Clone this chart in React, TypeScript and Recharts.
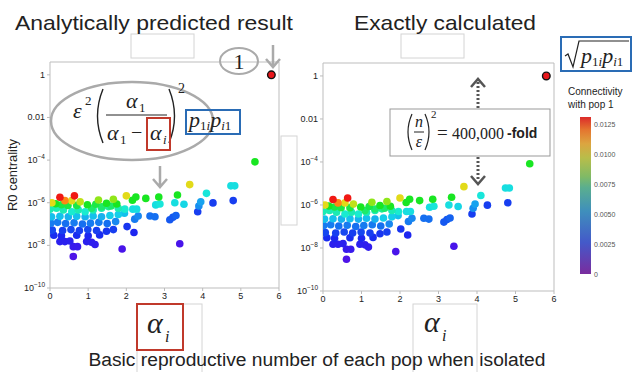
import { ScatterChart, Scatter, XAxis, YAxis, ReferenceArea } from "recharts";

// alpha_i (x), R0 centrality (y), connectivity with pop 1 (c)
const alphaValues = [
  0.05, 0.26, 0.39, 0.57, 0.64, 0.79, 1.27, 1.66, 1.48, 1.75, 2.0, 2.16, 2.25, 2.51, 2.85, 3.34, 3.66,
  0.15, 0.3, 0.47, 0.7, 0.98, 1.09, 1.2, 1.35, 1.6,
  0.0, 0.17, 0.35, 0.57, 0.74, 0.92, 1.13, 1.35, 1.53, 1.79, 1.96, 2.17, 2.27, 2.77, 2.88, 3.27, 3.51,
  0.04, 0.26, 0.48, 0.7, 0.92, 1.13, 1.35, 1.57, 1.79, 1.95,
  0.02, 0.2, 0.41, 0.63, 0.85, 1.06, 1.28, 1.5, 1.72, 2.22, 2.31, 2.62, 2.75, 3.14, 3.22, 3.3, 3.9, 3.95, 4.1,
  0.06, 0.33, 0.55, 0.77, 0.99, 1.22, 1.48, 1.66, 2.02, 2.2, 3.87, 4.27, 4.8,
  0.1, 0.3, 0.7, 1.0, 1.3, 0.26, 0.39, 0.52, 0.96, 1.09, 1.18, 0.61, 0.72, 0.61, 1.89, 3.4,
  4.74, 4.84, 5.37,
];
const centralityValues = [
  1.0e-6, 1.8e-6, 1.25e-6, 1.25e-6, 2.1e-6, 1.1e-6, 1.35e-6, 1.45e-6, 9.5e-7, 8.7e-7, 2.1e-6, 1.3e-6, 1.85e-6, 1.6e-6, 1.85e-6, 2.3e-6, 7.1e-6,
  9e-7, 8e-7, 7.5e-7, 7.5e-7, 8e-7, 5.5e-7, 8.5e-7, 6.5e-7, 7e-7,
  5e-7, 5.5e-7, 4.6e-7, 3.8e-7, 4.6e-7, 3.8e-7, 4.6e-7, 5.5e-7, 6.6e-7, 5.5e-7, 5e-7, 5e-7, 5e-7, 7.9e-7, 8.7e-7, 1.0e-6, 8.5e-7,
  2.2e-7, 2.3e-7, 2.2e-7, 2.3e-7, 2.2e-7, 2.4e-7, 2.2e-7, 2.5e-7, 2.8e-7, 3.2e-7,
  1.1e-7, 1.2e-7, 1.05e-7, 1.15e-7, 1.0e-7, 1.1e-7, 1.2e-7, 1.05e-7, 1.3e-7, 1.7e-7, 2.4e-7, 2.4e-7, 2.2e-7, 1.6e-7, 2.1e-7, 2.5e-7, 7e-7, 1.1e-6, 2.75e-6,
  5.2e-8, 5e-8, 5.5e-8, 5e-8, 5.5e-8, 5e-8, 4.6e-8, 5.5e-8, 7.6e-8, 4e-8, 3.8e-7, 9.8e-7, 1.26e-6,
  3e-8, 2.8e-8, 3e-8, 2.8e-8, 3.1e-8, 1.5e-8, 1.5e-8, 1.6e-8, 1.5e-8, 1.4e-8, 1.1e-8, 8.7e-9, 8.7e-9, 3.0e-9, 6.8e-9, 1.2e-8,
  6.2e-6, 6.2e-6, 8.3e-5,
];
const connectivityValues = [
  0.0095, 0.0125, 0.011, 0.0095, 0.0125, 0.0092, 0.0088, 0.0088, 0.0078, 0.0078, 0.0095, 0.0078, 0.0078, 0.0078, 0.0078, 0.0078, 0.0095,
  0.0078, 0.0075, 0.0075, 0.0075, 0.0078, 0.0072, 0.0075, 0.0072, 0.0072,
  0.0065, 0.0065, 0.0065, 0.0062, 0.0065, 0.0062, 0.0065, 0.0065, 0.0068, 0.0065, 0.0062, 0.0058, 0.0058, 0.0058, 0.006, 0.0058, 0.0056,
  0.0052, 0.0052, 0.005, 0.0052, 0.005, 0.0052, 0.005, 0.0054, 0.0054, 0.0052,
  0.0042, 0.0042, 0.004, 0.0042, 0.004, 0.0042, 0.0042, 0.004, 0.0044, 0.0042, 0.0044, 0.004, 0.004, 0.0036, 0.0036, 0.0038, 0.0045, 0.0048, 0.006,
  0.0032, 0.003, 0.0032, 0.003, 0.0032, 0.003, 0.0028, 0.003, 0.0028, 0.0024, 0.003, 0.003, 0.003,
  0.0026, 0.0024, 0.0026, 0.0024, 0.0026, 0.002, 0.002, 0.002, 0.002, 0.0019, 0.0018, 0.0016, 0.0016, 0.001, 0.0012, 0.0012,
  0.0058, 0.0058, 0.0078,
];

// pop 1 itself
const focalAlpha = [5.8];
const focalCentrality = [1];

const xTicks = [0, 1, 2, 3, 4, 5, 6];
const yTicks = [1e-10, 1e-8, 1e-6, 1e-4, 0.01, 1];
const yTickBase = ["10", "10", "10", "10", "0.01", "1"];
const yTickExp = ["−10", "−8", "−6", "−4", "", ""];
const colorbarTicks = [0, 0.0025, 0.005, 0.0075, 0.01, 0.0125];
const colorbarLabels = ["0", "0.0025", "0.0050", "0.0075", "0.0100", "0.0125"];

const points = alphaValues
  .map((a, i) => ({ x: a, y: centralityValues[i], c: connectivityValues[i] }))
  .sort((p, q) => p.c - q.c);
const focal = focalAlpha.map((a, i) => ({ x: a, y: focalCentrality[i] }));

const SANS = "'Liberation Sans', Arial, Helvetica, sans-serif";
const SERIF = "'Liberation Serif', 'Times New Roman', serif";

const stops: [number, number[]][] = [
  [0, [110, 20, 220]],
  [0.1, [70, 20, 235]],
  [0.2, [25, 40, 240]],
  [0.3, [20, 95, 240]],
  [0.37, [25, 150, 240]],
  [0.43, [20, 205, 235]],
  [0.49, [25, 235, 215]],
  [0.56, [30, 235, 130]],
  [0.63, [25, 230, 25]],
  [0.72, [170, 230, 25]],
  [0.77, [240, 215, 25]],
  [0.88, [255, 135, 20]],
  [1, [240, 25, 20]],
];

const connColor = (c: number) => {
  const t = Math.max(0, Math.min(1, c / 0.0125));
  for (let i = 1; i < stops.length; i++) {
    const [t1, c1] = stops[i];
    const [t0, c0] = stops[i - 1];
    if (t <= t1) {
      const f = (t - t0) / (t1 - t0);
      const rgb = c0.map((v, k) => Math.round(v + (c1[k] - v) * f));
      return `rgb(${rgb.join(",")})`;
    }
  }
  return "rgb(240,25,20)";
};

const Dot = (props: any) => {
  const { cx, cy, payload } = props;
  return <circle cx={cx} cy={cy} r={3.8} fill={connColor(payload.c)} />;
};

const FocalDot = (props: any) => (
  <circle cx={props.cx} cy={props.cy} r={3.8} fill="#e8161b" stroke="#111" strokeWidth={1.4} />
);

const LogTick = (props: any) => {
  const { x, y, payload } = props;
  const i = yTicks.findIndex((t) => Math.abs(Math.log10(t) - Math.log10(payload.value)) < 0.01);
  if (i < 0) return null;
  return (
    <text x={x} y={y + 3} textAnchor="end" fontSize={9} fill="#222" fontFamily={SANS}>
      {yTickBase[i]}
      {yTickExp[i] && (
        <tspan dy={-4} fontSize={6.5}>
          {yTickExp[i]}
        </tspan>
      )}
    </text>
  );
};

type PanelProps = { left: number; width: number; height: number; top: number; yWidth: number };

const Panel = ({ left, width, height, top, yWidth }: PanelProps) => (
  <div style={{ position: "absolute", left, top: 0 }}>
    <ScatterChart width={width} height={height} margin={{ top, right: 11, bottom: 2, left: 0 }}>
      <XAxis
        type="number"
        dataKey="x"
        domain={[0, 6]}
        ticks={xTicks}
        height={20}
        axisLine={false}
        tickLine={{ stroke: "#bbb" }}
        tickSize={3}
        tick={{ fontSize: 9, fill: "#222", fontFamily: SANS }}
        allowDataOverflow
      />
      <YAxis
        type="number"
        dataKey="y"
        scale="log"
        domain={[1e-10, 4]}
        ticks={yTicks}
        width={yWidth}
        axisLine={false}
        tickLine={{ stroke: "#bbb" }}
        tickSize={3}
        tickMargin={2}
        tick={<LogTick />}
        allowDataOverflow
      />
      <ReferenceArea x1={0} x2={6} y1={1e-10} y2={4} fill="none" stroke="#bdbdbd" strokeWidth={1} ifOverflow="visible" />
      <Scatter data={points} shape={<Dot />} isAnimationActive={false} />
      <Scatter data={focal} shape={<FocalDot />} isAnimationActive={false} />
    </ScatterChart>
  </div>
);

const Overlay = () => {
  const cbTop = 124;
  const cbBottom = 274;
  const cbY = (v: number) => cbBottom - (v / 0.0125) * (cbBottom - cbTop);
  return (
    <svg width={634} height={372} style={{ position: "absolute", left: 0, top: 0, pointerEvents: "none" }}>
      <defs>
        <linearGradient id="cbGrad" x1="0" y1="1" x2="0" y2="0">
          <stop offset="0" stopColor="#7a2c9e" />
          <stop offset="0.2" stopColor="#4459c9" />
          <stop offset="0.4" stopColor="#3f8fbc" />
          <stop offset="0.55" stopColor="#5aae8f" />
          <stop offset="0.62" stopColor="#80ba66" />
          <stop offset="0.74" stopColor="#b8bd4a" />
          <stop offset="0.83" stopColor="#dca540" />
          <stop offset="0.92" stopColor="#e4742f" />
          <stop offset="1" stopColor="#dc2b2a" />
        </linearGradient>
      </defs>

      {/* faint leftover boxes */}
      <g fill="none" stroke="#d4d4d4" strokeWidth={1}>
        <rect x={131} y={34} width={63} height={24} />
        <rect x={401} y={34} width={63} height={24} />
        <rect x={281} y={136} width={16} height={89} />
        <rect x={137} y={304} width={65} height={80} />
        <rect x={413} y={304} width={64} height={80} />
      </g>

      {/* titles */}
      <text x={15} y={30} fontSize={21} fontFamily={SANS} fill="#222" textLength={278} lengthAdjust="spacingAndGlyphs">
        Analytically predicted result
      </text>
      <text x={354} y={30} fontSize={21} fontFamily={SANS} fill="#222" textLength={182} lengthAdjust="spacingAndGlyphs">
        Exactly calculated
      </text>
      <text
        x={317}
        y={366}
        textAnchor="middle"
        fontSize={18}
        fontFamily={SANS}
        fill="#222"
        textLength={457}
        lengthAdjust="spacingAndGlyphs"
      >
        Basic reproductive number of each pop when isolated
      </text>
      <text
        transform="translate(17,175) rotate(-90)"
        textAnchor="middle"
        fontSize={12}
        fontFamily={SANS}
        fill="#222"
        textLength={72}
        lengthAdjust="spacingAndGlyphs"
      >
        R0 centrality
      </text>

      {/* circled 1 and grey arrow */}
      <ellipse cx={239} cy={61} rx={19} ry={13} fill="none" stroke="#aaa" strokeWidth={2} />
      <text x={239} y={69} textAnchor="middle" fontSize={22} fontFamily={SERIF} fill="#222">
        1
      </text>
      <path d="M273 45 V66 M266 59 L273 67 L280 59" fill="none" stroke="#aaa" strokeWidth={2.5} />

      {/* analytic formula */}
      <ellipse cx={132} cy={121} rx={81} ry={39} fill="none" stroke="#aaa" strokeWidth={2.5} />
      <text x={73} y={118} fontSize={22} fontStyle="italic" fontFamily={SERIF} fill="#222">
        ε
      </text>
      <text x={85} y={105} fontSize={13} fontFamily={SERIF} fill="#222">
        2
      </text>
      <path d="M103 89 Q92 116 103 143" fill="none" stroke="#222" strokeWidth={1.4} />
      <path d="M169 89 Q180 116 169 143" fill="none" stroke="#222" strokeWidth={1.4} />
      <text x={178} y={93} fontSize={14} fontFamily={SERIF} fill="#222">
        2
      </text>
      <text x={126} y={108} fontSize={22} fontStyle="italic" fontFamily={SERIF} fill="#222">
        α
      </text>
      <text x={139} y={112} fontSize={13} fontFamily={SERIF} fill="#222">
        1
      </text>
      <line x1={106} x2={167} y1={115} y2={115} stroke="#222" strokeWidth={1} />
      <text x={107} y={140} fontSize={22} fontStyle="italic" fontFamily={SERIF} fill="#222">
        α
      </text>
      <text x={120} y={144} fontSize={13} fontFamily={SERIF} fill="#222">
        1
      </text>
      <text x={131} y={139} fontSize={20} fontFamily={SERIF} fill="#222">
        −
      </text>
      <text x={150} y={140} fontSize={22} fontStyle="italic" fontFamily={SERIF} fill="#222">
        α
      </text>
      <text x={163} y={144} fontSize={13} fontStyle="italic" fontFamily={SERIF} fill="#222">
        i
      </text>
      <rect x={147} y={118} width={23} height={32} fill="none" stroke="#c0392b" strokeWidth={2} />
      <rect x={186} y={110} width={54} height={24} fill="none" stroke="#2a6cb5" strokeWidth={2} />
      <text x={189} y={127} fontSize={22} fontStyle="italic" fontFamily={SERIF} fill="#222">
        p
        <tspan fontSize={13} fontStyle="normal" dy={3}>
          1
        </tspan>
        <tspan fontSize={13}>i</tspan>
        <tspan fontSize={22} dy={-3}>
          p
        </tspan>
        <tspan fontSize={13} dy={3}>
          i
        </tspan>
        <tspan fontSize={13} fontStyle="normal">
          1
        </tspan>
      </text>
      <path d="M160 166 V186 M153 179 L160 187 L167 179" fill="none" stroke="#aaa" strokeWidth={2.5} />

      {/* sqrt box */}
      <rect x={561} y={37} width={70} height={34} fill="none" stroke="#2a6cb5" strokeWidth={2} />
      <path d="M565 56 L568 54 L573 67 L579 41 L629 41" fill="none" stroke="#222" strokeWidth={1.2} />
      <text x={581} y={63} fontSize={22} fontStyle="italic" fontFamily={SERIF} fill="#222">
        p
        <tspan fontSize={13} fontStyle="normal" dy={3}>
          1
        </tspan>
        <tspan fontSize={13}>i</tspan>
        <tspan fontSize={22} dy={-3}>
          p
        </tspan>
        <tspan fontSize={13} dy={3}>
          i
        </tspan>
        <tspan fontSize={13} fontStyle="normal">
          1
        </tspan>
      </text>

      {/* dotted arrows and fold box */}
      <path d="M478 108 V82" stroke="#555" strokeWidth={3} strokeDasharray="2 2" fill="none" />
      <path d="M471 87 L478 79 L485 87" stroke="#555" strokeWidth={2.5} fill="none" />
      <path d="M478 157 V180" stroke="#555" strokeWidth={3} strokeDasharray="2 2" fill="none" />
      <path d="M471 176 L478 184 L485 176" stroke="#555" strokeWidth={2.5} fill="none" />
      <rect x={390} y={109} width={160} height={47} fill="#fff" stroke="#999" strokeWidth={1} />
      <path d="M412 114 Q404 132 412 150" fill="none" stroke="#222" strokeWidth={1.2} />
      <path d="M425 114 Q433 132 425 150" fill="none" stroke="#222" strokeWidth={1.2} />
      <text x={419} y={127} textAnchor="middle" fontSize={16} fontStyle="italic" fontFamily={SERIF} fill="#222">
        n
      </text>
      <line x1={414} x2={424} y1={132} y2={132} stroke="#222" strokeWidth={1} />
      <text x={419} y={147} textAnchor="middle" fontSize={16} fontStyle="italic" fontFamily={SERIF} fill="#222">
        ε
      </text>
      <text x={431} y={118} fontSize={11} fontFamily={SERIF} fill="#222">
        2
      </text>
      <text x={437} y={139} fontSize={19} fontFamily={SERIF} fill="#222">
        =
      </text>
      <text x={452} y={139} fontSize={16} fontFamily={SERIF} fill="#222">
        400,000
      </text>
      <text x={507} y={138} fontSize={14} fontWeight="bold" fontFamily={SANS} fill="#222">
        -fold
      </text>

      {/* colorbar */}
      <text x={568} y={95} fontSize={10} fontFamily={SANS} fill="#222">
        Connectivity
      </text>
      <text x={568} y={108} fontSize={10} fontFamily={SANS} fill="#222">
        with pop 1
      </text>
      <rect x={580} y={117} width={11} height={157} fill="url(#cbGrad)" />
      {colorbarTicks.map((v, i) => (
        <text key={i} x={594} y={cbY(v) + 2.5} fontSize={7} fontFamily={SANS} fill="#555">
          {colorbarLabels[i]}
        </text>
      ))}

      {/* alpha_i axis labels */}
      <rect x={137} y={304} width={46} height={46} fill="none" stroke="#c0392b" strokeWidth={2} />
      <text x={147} y={333} fontSize={30} fontStyle="italic" fontFamily={SERIF} fill="#222">
        α
      </text>
      <text x={165} y={342} fontSize={16} fontStyle="italic" fontFamily={SERIF} fill="#222">
        i
      </text>
      <text x={424} y={332} fontSize={30} fontStyle="italic" fontFamily={SERIF} fill="#222">
        α
      </text>
      <text x={442} y={341} fontSize={16} fontStyle="italic" fontFamily={SERIF} fill="#222">
        i
      </text>
    </svg>
  );
};

const App = () => (
  <div
    style={{
      position: "absolute",
      left: 0,
      top: 0,
      width: 634,
      height: 372,
      background: "#fff",
      overflow: "hidden",
      fontFamily: SANS,
    }}
  >
    <Panel left={0} width={290} height={310} top={62} yWidth={50} />
    <Panel left={290} width={275} height={313} top={63} yWidth={33} />
    <Overlay />
  </div>
);

export default App;
